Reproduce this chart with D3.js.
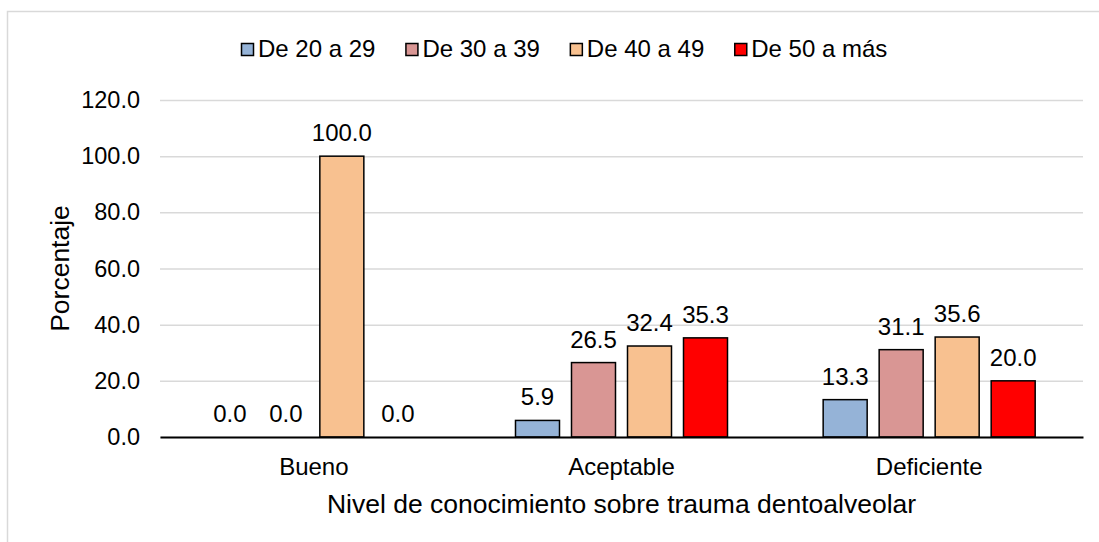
<!DOCTYPE html>
<html>
<head>
<meta charset="utf-8">
<script src="https://cdn.jsdelivr.net/npm/d3@7"></script>
<style>
  body { margin: 0; background: #fff; }
  text { font-family: "Liberation Sans", Arial, sans-serif; fill: #000; }
</style>
</head>
<body>
<div id="chart"></div>
<script>
// Data

var categories = ['Bueno', 'Aceptable', 'Deficiente'];
var seriesNames = ['De 20 a 29', 'De 30 a 39', 'De 40 a 49', 'De 50 a más'];
var seriesColors = ['#95b3d7', '#d99694', '#f8c190', '#ff0000'];
var de20a29 = [0.0, 5.9, 13.3];
var de30a39 = [0.0, 26.5, 31.1];
var de40a49 = [100.0, 32.4, 35.6];
var de50aMas = [0.0, 35.3, 20.0];
var yTicks = [0, 20, 40, 60, 80, 100, 120];

var seriesValues = [de20a29, de30a39, de40a49, de50aMas];

// Dimensions

var width = 1099;
var height = 542;
var plot = { left: 160, right: 1083, top: 100, bottom: 437 };

var svg = d3.select('#chart').append('svg')
    .attr('width', width)
    .attr('height', height);

// chart area border (runs off the right / bottom of the picture)
svg.append('rect')
    .attr('x', 7.5)
    .attr('y', 11.5)
    .attr('width', 1120)
    .attr('height', 560)
    .attr('fill', '#fff')
    .attr('stroke', '#d9d9d9')
    .attr('stroke-width', 1.5);

// Scales

var x = d3.scaleBand()
    .domain(categories)
    .range([plot.left, plot.right]);

var xInner = d3.scaleBand()
    .domain(d3.range(seriesNames.length))
    .range([0, x.bandwidth()])
    .paddingInner(12 / 56)
    .paddingOuter(0.854);

var y = d3.scaleLinear()
    .domain([0, 120])
    .range([plot.bottom, plot.top]);

// Gridlines + y tick labels

var yAxis = d3.axisLeft(y)
    .tickValues(yTicks)
    .tickFormat(d3.format('.1f'))
    .tickSize(-(plot.right - plot.left))
    .tickPadding(20);

var gy = svg.append('g')
    .attr('transform', 'translate(' + plot.left + ',0)')
    .call(yAxis);

gy.select('.domain').remove();
gy.selectAll('.tick line')
    .attr('stroke', '#d9d9d9')
    .attr('stroke-width', 1.5);
gy.selectAll('.tick text')
    .attr('font-size', '23.5px')
    .attr('font-family', '"Liberation Sans", Arial, sans-serif')
    .attr('fill', '#000');

// Bars

var groups = svg.selectAll('g.cat')
    .data(categories)
    .enter()
    .append('g')
    .attr('class', 'cat')
    .attr('transform', function(d) { return 'translate(' + x(d) + ',0)'; });

groups.selectAll('rect')
    .data(function(d, i) {
        return seriesValues.map(function(s, j) { return { s: j, v: s[i] }; });
    })
    .enter()
    .append('rect')
    .attr('x', function(d) { return xInner(d.s); })
    .attr('y', function(d) { return y(d.v); })
    .attr('width', xInner.bandwidth())
    .attr('height', function(d) { return y(0) - y(d.v); })
    .attr('fill', function(d) { return seriesColors[d.s]; })
    .attr('stroke', function(d) { return d.v > 0 ? '#000' : 'none'; })
    .attr('stroke-width', 1.5);

// data labels
groups.selectAll('text.lbl')
    .data(function(d, i) {
        return seriesValues.map(function(s, j) { return { s: j, v: s[i] }; });
    })
    .enter()
    .append('text')
    .attr('class', 'lbl')
    .attr('x', function(d) { return xInner(d.s) + xInner.bandwidth() / 2; })
    .attr('y', function(d) { return y(d.v) - 15; })
    .attr('text-anchor', 'middle')
    .attr('font-size', '24px')
    .text(function(d) { return d3.format('.1f')(d.v); });

// x axis line + category labels

var xAxis = d3.axisBottom(x)
    .tickSize(0)
    .tickPadding(21);

var gx = svg.append('g')
    .attr('transform', 'translate(0,' + plot.bottom + ')')
    .call(xAxis);

gx.select('.domain')
    .attr('stroke', '#000')
    .attr('stroke-width', 2);
gx.selectAll('.tick text')
    .attr('font-size', '24px')
    .attr('font-family', '"Liberation Sans", Arial, sans-serif')
    .attr('fill', '#000');

// Axis titles

svg.append('text')
    .attr('transform', 'translate(69,' + ((plot.top + plot.bottom) / 2) + ') rotate(-90)')
    .attr('text-anchor', 'middle')
    .attr('font-size', '26.5px')
    .text('Porcentaje');

svg.append('text')
    .attr('x', (plot.left + plot.right) / 2)
    .attr('y', 513)
    .attr('text-anchor', 'middle')
    .attr('font-size', '26.5px')
    .text('Nivel de conocimiento sobre trauma dentoalveolar');

// Legend

var legend = svg.append('g')
    .attr('class', 'legend')
    .attr('transform', 'translate(241,0)');

var lx = 0;
seriesNames.forEach(function(name, i) {
    var item = legend.append('g')
        .attr('transform', 'translate(' + lx + ',0)');
    item.append('rect')
        .attr('x', 0.5)
        .attr('y', 43.5)
        .attr('width', 12)
        .attr('height', 12)
        .attr('fill', seriesColors[i])
        .attr('stroke', '#000')
        .attr('stroke-width', 1.5);
    var t = item.append('text')
        .attr('x', 17)
        .attr('y', 57)
        .attr('font-size', '24px')
        .text(name);
    lx += 17 + t.node().getComputedTextLength() + 30;
});
</script>
</body>
</html>
